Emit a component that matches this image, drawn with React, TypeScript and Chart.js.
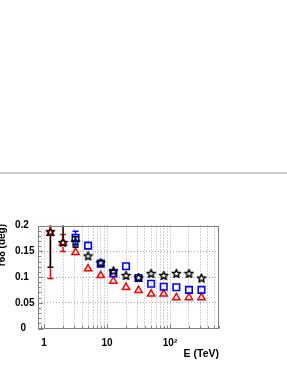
import React, { useEffect, useRef } from 'react';
import { Chart, registerables } from 'chart.js';

Chart.register(...registerables);

// ---- data ----
const energies = [1.26, 2.0, 3.16, 5.0, 7.94, 12.6, 20.0, 31.6, 50.1, 79.4, 126, 200, 316];

const starR68 = [0.188, 0.167, 0.168, 0.141, 0.128, 0.112, 0.103, 0.099, 0.107, 0.103, 0.107, 0.107, 0.098];
const starErrLow = [0.069, 0, 0.010, 0, 0, 0, 0, 0, 0, 0, 0, 0, 0];
const starErrHigh = [0.069, 0.05, 0.010, 0, 0, 0, 0, 0, 0, 0, 0, 0, 0];

const squareR68: (number | null)[] = [null, null, 0.176, 0.161, 0.126, 0.107, 0.121, 0.098, 0.087, 0.081, 0.080, 0.075, 0.075];
const squareErr = [0, 0, 0.013, 0, 0, 0, 0, 0, 0, 0, 0, 0, 0];

const triangleR68 = [0.185, 0.166, 0.148, 0.116, 0.103, 0.092, 0.080, 0.074, 0.067, 0.067, 0.060, 0.060, 0.060];
const triangleErr = [0.088, 0.0165, 0.0065, 0, 0, 0.006, 0.0065, 0, 0, 0, 0, 0, 0];

const xMin = 0.8;
const xMax = 600;
const xTickValues = [0.8, 0.9, 1, 2, 3, 4, 5, 6, 7, 8, 9, 10, 20, 30, 40, 50, 60, 70, 80, 90, 100, 200, 300, 400, 500, 600];
const xMajorValues = [1, 10, 100];
const xMajorLabels = ['1', '10', '10\u00B2'];

const yMin = 0;
const yMax = 0.2;
const yMinorStepCount = 20; // ticks every 0.01
const yMajorValues = [0, 0.05, 0.1, 0.15, 0.2];
const yMajorLabels = ['  0', '0.05', '0.1', '0.15', '0.2'];

const xTitle = 'E (TeV)';
const yTitle = 'r68 (deg)';

const FONT = '"Liberation Sans", Arial, Helvetica, sans-serif';
const GRID_COLOR = '#a8a8a8';
const FRAME_COLOR = '#808080';

function isYMajor(v: number) {
  return yMajorValues.some((m) => Math.abs(m - v) < 1e-9);
}
function xMajorIndex(v: number) {
  return xMajorValues.findIndex((m) => Math.abs(m - v) < 1e-9);
}

function makeStar(): HTMLCanvasElement {
  const c = document.createElement('canvas');
  c.width = 11;
  c.height = 11;
  const g = c.getContext('2d')!;
  g.strokeStyle = '#000';
  g.lineWidth = 1.4;
  g.lineJoin = 'round';
  g.beginPath();
  for (let i = 0; i < 10; i++) {
    const r = i % 2 === 0 ? 4.4 : 1.9;
    const a = -Math.PI / 2 + (i * Math.PI) / 5;
    const px = 5.5 + r * Math.cos(a);
    const py = 5.9 + r * Math.sin(a);
    if (i === 0) g.moveTo(px, py);
    else g.lineTo(px, py);
  }
  g.closePath();
  g.stroke();
  return c;
}

const errorBarPlugin = {
  id: 'errorBars',
  afterDatasetsDraw(chart: any) {
    const { ctx, chartArea, scales } = chart;
    const y = scales.y;
    ctx.save();
    ctx.beginPath();
    ctx.rect(chartArea.left, chartArea.top, chartArea.right - chartArea.left, chartArea.bottom - chartArea.top);
    ctx.clip();
    const n = chart.data.datasets.length;
    for (let di = n - 1; di >= 0; di--) {
      const ds: any = chart.data.datasets[di];
      const meta = chart.getDatasetMeta(di);
      ctx.strokeStyle = ds.errColor;
      ctx.lineWidth = 1.5;
      meta.data.forEach((el: any, j: number) => {
        const raw = ds.data[j];
        if (!raw.lo && !raw.hi) return;
        const cx = el.x;
        const cy = el.y;
        const gap = 4;
        const cap = 3;
        const yTop = y.getPixelForValue(raw.y + raw.hi);
        const yBot = y.getPixelForValue(raw.y - raw.lo);
        ctx.beginPath();
        if (cy - yTop > gap) {
          ctx.moveTo(cx, cy - gap);
          ctx.lineTo(cx, yTop);
          ctx.moveTo(cx - cap, yTop);
          ctx.lineTo(cx + cap, yTop);
        }
        if (yBot - cy > gap) {
          ctx.moveTo(cx, cy + gap);
          ctx.lineTo(cx, yBot);
          ctx.moveTo(cx - cap, yBot);
          ctx.lineTo(cx + cap, yBot);
        }
        ctx.stroke();
      });
    }
    ctx.restore();
  },
};

const framePlugin = {
  id: 'frame',
  afterDraw(chart: any) {
    const { ctx, chartArea, scales } = chart;
    const { left, right, top, bottom } = chartArea;
    const x = scales.x;
    const y = scales.y;
    ctx.save();
    ctx.strokeStyle = FRAME_COLOR;
    ctx.lineWidth = 1;
    const l = Math.round(left) + 0.5;
    const t = Math.round(top) + 0.5;
    const r = Math.round(right) - 0.5;
    const b = Math.round(bottom) - 0.5;
    ctx.strokeRect(l, t, r - l, b - t);
    ctx.beginPath();
    y.ticks.forEach((tk: any) => {
      const py = Math.round(y.getPixelForValue(tk.value)) + 0.5;
      const len = isYMajor(tk.value) ? 4.5 : 2.5;
      ctx.moveTo(l, py);
      ctx.lineTo(l + len, py);
    });
    x.ticks.forEach((tk: any) => {
      const px = Math.round(x.getPixelForValue(tk.value)) + 0.5;
      const len = xMajorIndex(tk.value) >= 0 ? 4.5 : 2.5;
      ctx.moveTo(px, b);
      ctx.lineTo(px, b - len);
    });
    ctx.stroke();

    ctx.fillStyle = '#000';
    ctx.font = `bold 10.5px ${FONT}`;
    ctx.textAlign = 'right';
    ctx.textBaseline = 'alphabetic';
    ctx.fillText(xTitle, right, 357);

    ctx.translate(5, 224);
    ctx.rotate(-Math.PI / 2);
    ctx.font = `bold 10px ${FONT}`;
    ctx.textAlign = 'right';
    ctx.fillText(yTitle, 0, 0);
    ctx.restore();
  },
};

export default function App() {
  const ref = useRef<HTMLCanvasElement>(null);

  useEffect(() => {
    const canvas = ref.current!;
    const starImg = makeStar();

    const starData = energies.map((e, i) => ({ x: e, y: starR68[i], lo: starErrLow[i], hi: starErrHigh[i] }));
    const squareData = energies
      .map((e, i) => ({ x: e, y: squareR68[i] as number, lo: squareErr[i], hi: squareErr[i] }))
      .filter((p) => p.y !== null);
    const triangleData = energies.map((e, i) => ({ x: e, y: triangleR68[i], lo: triangleErr[i], hi: triangleErr[i] }));

    const chart = new Chart(canvas, {
      type: 'scatter',
      data: {
        datasets: [
          {
            label: 'stars',
            data: starData,
            pointStyle: starImg as any,
            pointRadius: 5,
            borderColor: '#000',
            backgroundColor: 'rgba(0,0,0,0)',
            errColor: '#000',
          } as any,
          {
            label: 'squares',
            data: squareData,
            pointStyle: 'rect',
            pointRadius: 4.6,
            borderWidth: 1.6,
            borderColor: 'rgb(0,0,255)',
            backgroundColor: 'rgba(0,0,0,0)',
            errColor: 'rgb(0,0,255)',
          } as any,
          {
            label: 'triangles',
            data: triangleData,
            pointStyle: 'triangle',
            pointRadius: 4.2,
            borderWidth: 1.5,
            borderColor: 'rgb(255,0,0)',
            backgroundColor: 'rgba(0,0,0,0)',
            errColor: 'rgb(255,0,0)',
          } as any,
        ],
      },
      options: {
        responsive: false,
        maintainAspectRatio: false,
        devicePixelRatio: 1,
        animation: false,
        events: [],
        layout: { padding: { left: 15, right: 68, top: 225.5, bottom: 0 } },
        plugins: {
          legend: { display: false },
          tooltip: { enabled: false },
        },
        scales: {
          x: {
            type: 'logarithmic',
            position: 'bottom',
            min: xMin,
            max: xMax,
            afterBuildTicks: (scale: any) => {
              scale.ticks = xTickValues.map((v) => ({ value: v }));
            },
            afterFit: (scale: any) => {
              scale.height = 40.5;
            },
            ticks: {
              autoSkip: false,
              maxRotation: 0,
              minRotation: 0,
              padding: 9,
              color: '#000',
              font: { family: FONT, size: 10, weight: 'bold' },
              callback: (v: any) => {
                const k = xMajorIndex(Number(v));
                return k >= 0 ? xMajorLabels[k] : '';
              },
            },
            grid: {
              drawTicks: false,
              lineWidth: 1,
              color: (ctx: any) => {
                const v = ctx.tick ? ctx.tick.value : 0;
                return v <= xMin + 1e-9 || v >= xMax - 1e-9 ? 'rgba(0,0,0,0)' : GRID_COLOR;
              },
            },
            border: { display: false, dash: [1, 2] },
          } as any,
          y: {
            type: 'linear',
            min: yMin,
            max: yMax,
            afterBuildTicks: (scale: any) => {
              const arr = [];
              for (let i = 0; i <= yMinorStepCount; i++) arr.push({ value: (yMax * i) / yMinorStepCount });
              scale.ticks = arr;
            },
            afterFit: (scale: any) => {
              scale.width = 23;
            },
            ticks: {
              autoSkip: false,
              crossAlign: 'far',
              color: '#000',
              font: { family: FONT, size: 10, weight: 'bold' },
              callback: (v: any) => {
                const k = yMajorValues.findIndex((m) => Math.abs(m - Number(v)) < 1e-9);
                return k >= 0 ? yMajorLabels[k] : '';
              },
            },
            grid: {
              drawTicks: false,
              lineWidth: 1,
              color: (ctx: any) => {
                const v = ctx.tick ? ctx.tick.value : 0;
                if (!isYMajor(v)) return 'rgba(0,0,0,0)';
                if (v <= yMin + 1e-9 || v >= yMax - 1e-9) return 'rgba(0,0,0,0)';
                return GRID_COLOR;
              },
            },
            border: { display: false, dash: [1, 2] },
          } as any,
        },
      },
      plugins: [errorBarPlugin, framePlugin],
    });

    return () => chart.destroy();
  }, []);

  return (
    <div style={{ position: 'absolute', left: 0, top: 0, width: 287, height: 369, background: '#fff', overflow: 'hidden' }}>
      <div style={{ position: 'absolute', left: 0, top: 172, width: 287, height: 2, background: '#cccccc' }} />
      <canvas
        ref={ref}
        width={287}
        height={369}
        style={{ position: 'absolute', left: 0, top: 0, width: 287, height: 369 }}
      />
    </div>
  );
}
